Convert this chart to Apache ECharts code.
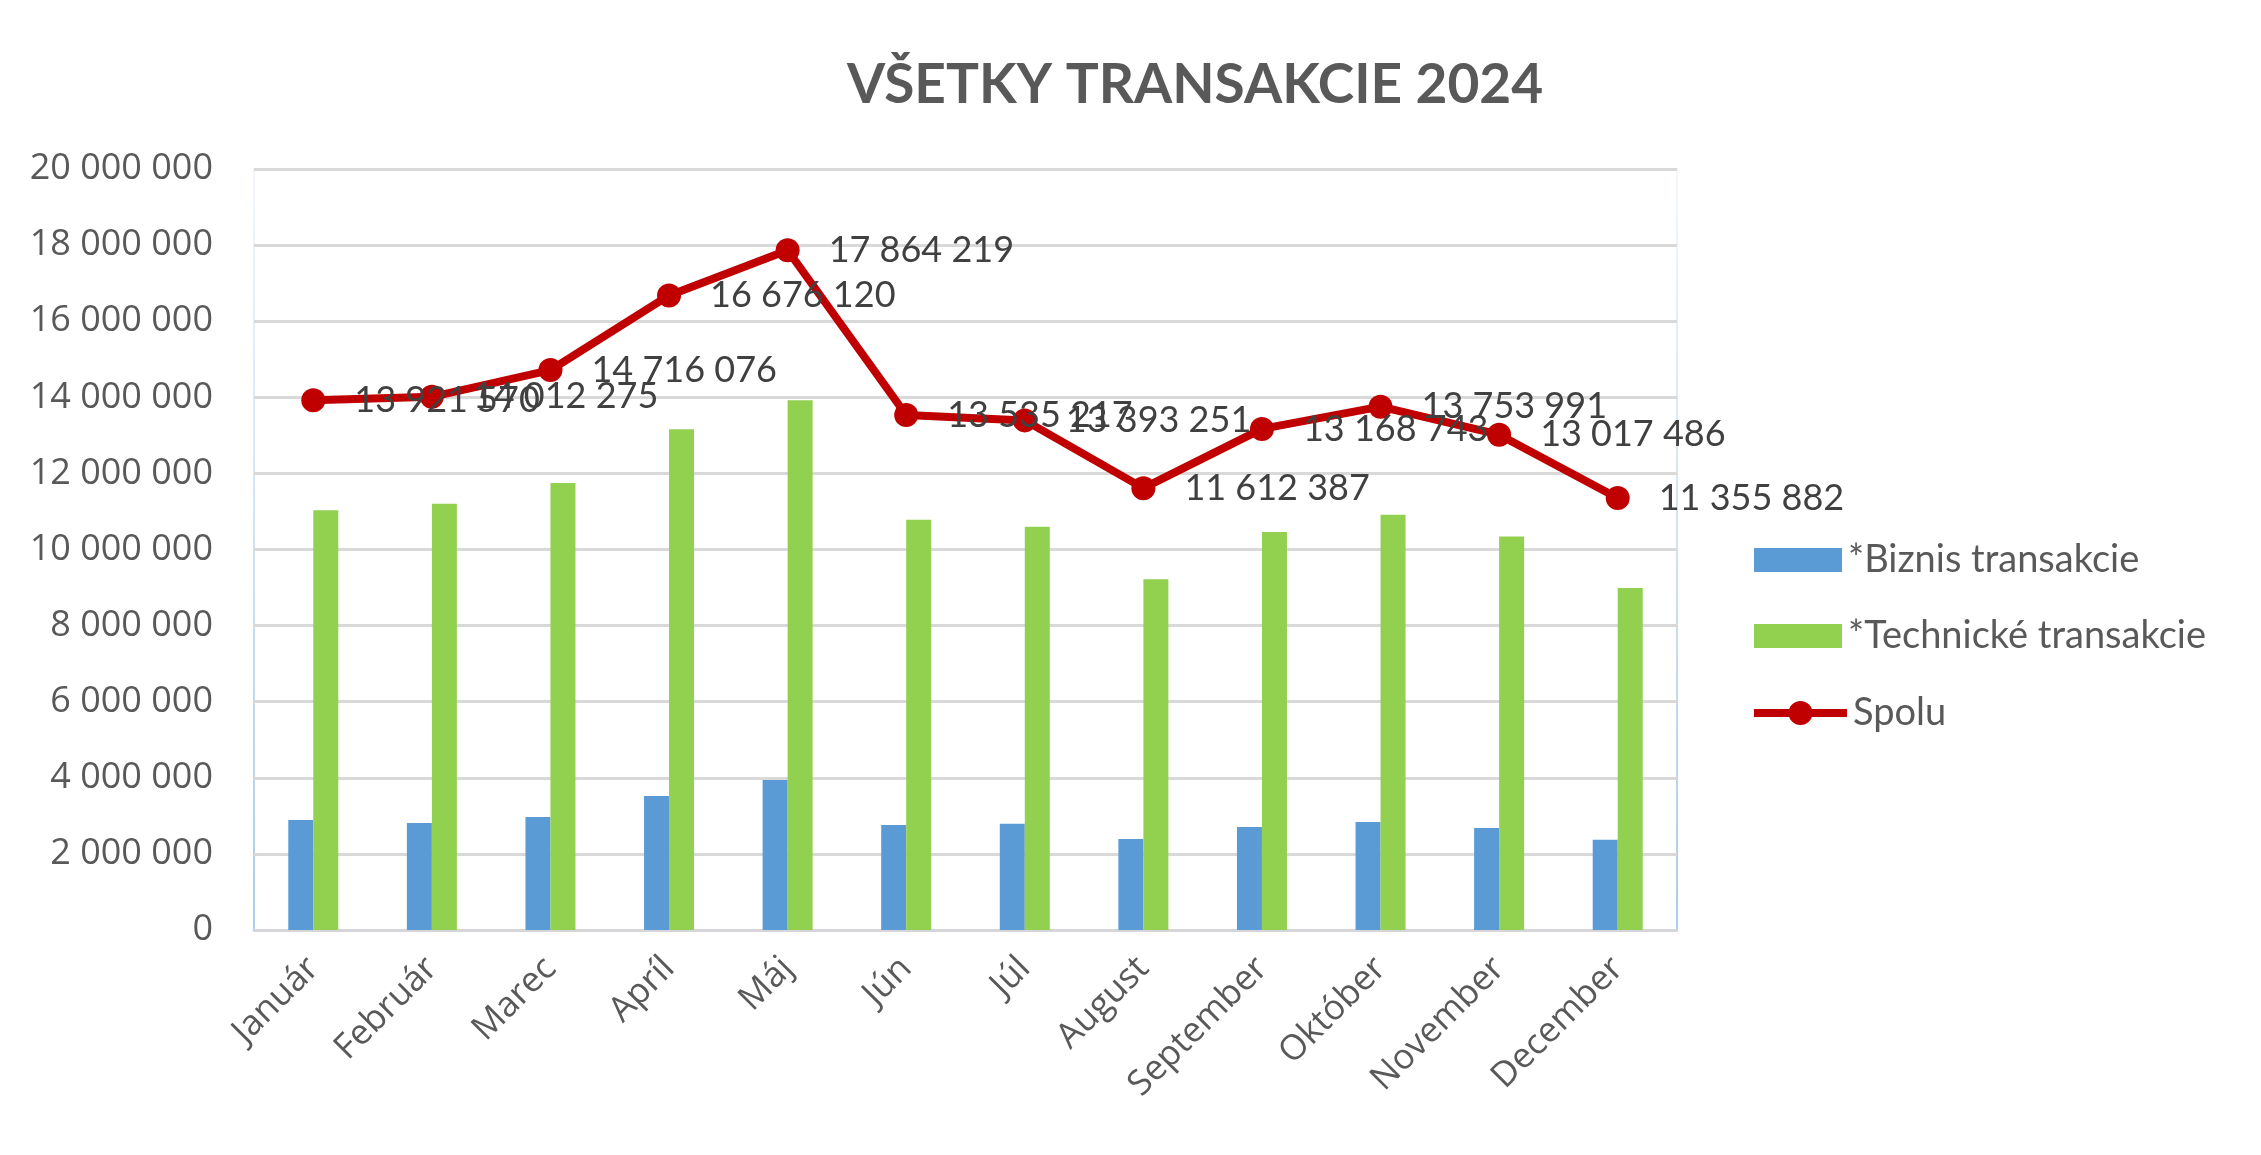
<!DOCTYPE html>
<html>
<head>
<meta charset="utf-8">
<script src="https://cdn.jsdelivr.net/npm/echarts@6/dist/echarts.min.js"></script>
<style>
html,body{margin:0;padding:0;background:#fff;}
#chart{width:2261px;height:1155px;}
</style>
</head>
<body>
<div id="chart"></div>
<script>
const months = ['Január','Február','Marec','Apríl','Máj','Jún','Júl','August','September','Október','November','December'];
const biznis = [2890000, 2810000, 2970000, 3520000, 3940000, 2760000, 2790000, 2390000, 2710000, 2840000, 2680000, 2370000];
const technicke = [11030000, 11200000, 11750000, 13160000, 13920000, 10780000, 10600000, 9220000, 10460000, 10910000, 10340000, 8990000];
const spolu = [13921570, 14012275, 14716076, 16676120, 17864219, 13535217, 13393251, 11612387, 13168743, 13753991, 13017486, 11355882];
const seriesNames = ['*Biznis transakcie','*Technické transakcie','Spolu'];
const titleText = 'VŠETKY TRANSAKCIE 2024';

function fmt(v){ return String(Math.round(v)).replace(/\B(?=(\d{3})+(?!\d))/g,' '); }

const chart = echarts.init(document.getElementById('chart'));
const legendText = {fontFamily:'Lato', fontSize:38, color:'#595959', lineHeight:42, padding:[0,0,0,1]};
chart.setOption({
  animation:false,
  backgroundColor:'#ffffff',
  title:{
    text:titleText, left:1190, top:80, textAlign:'center', textVerticalAlign:'middle',
    textStyle:{fontFamily:'Lato', fontWeight:'bold', fontSize:55, color:'#595959'}
  },
  legend:[
    {data:[seriesNames[0]], orient:'vertical', left:1749, top:534, itemWidth:88, itemHeight:24, textStyle:legendText, icon:'rect'},
    {data:[seriesNames[1]], orient:'vertical', left:1749, top:610, itemWidth:88, itemHeight:24, textStyle:legendText, icon:'rect'},
    {data:[seriesNames[2]], orient:'vertical', left:1745, top:687, itemWidth:93, itemHeight:30, textStyle:legendText,
     lineStyle:{width:8}, itemStyle:{color:'#C00000'}}
  ],
  grid:{
    left:254, right:584, top:169, bottom:225, show:true, borderWidth:2,
    borderColor:{type:'linear',x:0,y:0,x2:0,y2:1,colorStops:[{offset:0,color:'#F2F7FC'},{offset:1,color:'#A9CDEB'}]}
  },
  xAxis:{
    type:'category', data:months,
    axisTick:{show:false},
    axisLine:{show:true, lineStyle:{color:'#D5D5DA', width:3}},
    axisLabel:{rotate:45, margin:33, fontFamily:'Open Sans', fontSize:35, color:'#595959', interval:0}
  },
  yAxis:{
    type:'value', min:0, max:20000000, interval:2000000,
    axisLine:{show:false}, axisTick:{show:false},
    splitLine:{lineStyle:{color:'#D9D9D9', width:3}},
    axisLabel:{formatter:fmt, margin:41, fontFamily:'Open Sans', fontSize:36, color:'#595959'}
  },
  series:[
    {name:seriesNames[0], type:'bar', data:biznis, barWidth:25, barGap:'0%', itemStyle:{color:'#5B9BD5'}},
    {name:seriesNames[1], type:'bar', data:technicke, barWidth:25, barGap:'0%', itemStyle:{color:'#92D050'}},
    {name:seriesNames[2], type:'line', data:spolu, symbol:'circle', symbolSize:24, z:5,
     lineStyle:{color:'#C00000', width:8}, itemStyle:{color:'#C00000'},
     label:{show:true, position:'right', distance:29, formatter:p=>fmt(p.value), fontFamily:'Lato', fontSize:36, color:'#404040'}}
  ]
});
</script>
</body>
</html>
